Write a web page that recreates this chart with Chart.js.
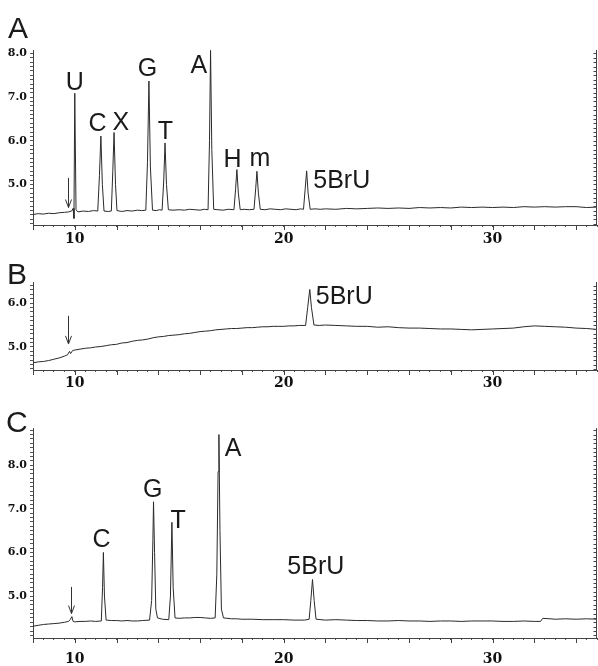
<!DOCTYPE html>
<html>
<head>
<meta charset="utf-8">
<script src="https://cdn.jsdelivr.net/npm/chart.js@4.4.1/dist/chart.umd.min.js"></script>
<style>
  body { margin: 0; background: #fff; }
  #page { position: relative; width: 598px; height: 666px; overflow: hidden; }
  canvas { position: absolute; left: 0; }
</style>
</head>
<body>
<div id="page">
  <canvas id="chartA" style="top:0px"></canvas>
  <canvas id="chartB" style="top:250px"></canvas>
  <canvas id="chartC" style="top:390px"></canvas>
</div>
<script>
// traces: [retention time, signal]
const traceA = [
  [8,4.31],[8.25,4.33],[8.5,4.32],[8.75,4.34],[9,4.33],[9.25,4.35],[9.5,4.36],[9.7,4.37],[9.85,4.39],[9.92,4.45],
  [9.96,4.22],[10,7.09],[10.06,4.42],[10.15,4.37],[10.4,4.39],[10.65,4.38],[10.9,4.4],[11.1,4.39],[11.18,5.2],[11.25,6.11],
  [11.32,5.0],[11.4,4.39],[11.6,4.38],[11.75,4.39],[11.82,5.3],[11.88,6.19],[11.95,5.0],[12.02,4.4],[12.25,4.38],[12.5,4.4],
  [12.75,4.39],[13,4.41],[13.2,4.4],[13.4,4.41],[13.48,5.5],[13.55,7.37],[13.62,5.4],[13.72,4.41],[13.9,4.4],[14.05,4.42],
  [14.18,4.41],[14.26,5.1],[14.32,5.95],[14.39,5.0],[14.48,4.42],[14.7,4.41],[15,4.42],[15.25,4.41],[15.5,4.43],[15.75,4.42],
  [16,4.41],[16.2,4.43],[16.38,4.42],[16.45,6.0],[16.5,8.07],[16.56,5.8],[16.65,4.43],[16.85,4.42],[17.1,4.41],[17.35,4.43],
  [17.62,4.42],[17.7,4.9],[17.76,5.34],[17.83,4.8],[17.92,4.42],[18.1,4.43],[18.35,4.42],[18.58,4.43],[18.66,4.9],[18.72,5.3],
  [18.79,4.8],[18.88,4.43],[19.1,4.42],[19.35,4.44],[19.6,4.43],[19.85,4.42],[20.1,4.44],[20.35,4.43],[20.6,4.42],[20.8,4.44],
  [20.95,4.43],[21.03,4.9],[21.1,5.31],[21.17,4.8],[21.27,4.43],[21.5,4.44],[21.75,4.43],[22,4.44],[22.5,4.43],[23,4.45],
  [23.5,4.44],[24,4.45],[24.5,4.46],[25,4.45],[25.5,4.46],[26,4.45],[26.5,4.47],[27,4.46],[27.5,4.47],[28,4.46],
  [28.5,4.48],[29,4.47],[29.5,4.48],[30,4.47],[30.5,4.48],[31,4.47],[31.5,4.49],[32,4.48],[32.5,4.49],[33,4.48],
  [33.5,4.49],[34,4.49],[34.5,4.47],[35,4.48]
];
const traceB = [
  [8,4.64],[8.25,4.66],[8.5,4.67],[8.75,4.69],[9,4.72],[9.25,4.75],[9.5,4.79],[9.65,4.82],[9.75,4.9],[9.8,4.85],
  [9.9,4.92],[10,4.93],[10.25,4.95],[10.5,4.97],[10.75,4.98],[11,5.0],[11.25,5.01],[11.5,5.03],[11.75,5.05],[12,5.06],
  [12.25,5.09],[12.5,5.1],[12.75,5.13],[13,5.15],[13.25,5.16],[13.5,5.18],[13.75,5.21],[14,5.23],[14.25,5.24],[14.5,5.26],
  [14.75,5.27],[15,5.28],[15.25,5.3],[15.5,5.31],[15.75,5.33],[16,5.35],[16.25,5.36],[16.5,5.37],[16.75,5.39],[17,5.4],
  [17.25,5.41],[17.5,5.42],[17.75,5.42],[18,5.43],[18.25,5.44],[18.5,5.44],[18.75,5.45],[19,5.46],[19.25,5.46],[19.5,5.47],
  [19.75,5.47],[20,5.47],[20.25,5.48],[20.5,5.48],[20.75,5.49],[21.05,5.49],[21.15,5.9],[21.25,6.31],[21.33,5.9],[21.45,5.5],
  [21.7,5.49],[22,5.5],[22.5,5.49],[23,5.48],[23.5,5.47],[24,5.47],[24.5,5.45],[25,5.46],[25.5,5.44],[26,5.43],
  [26.5,5.43],[27,5.42],[27.5,5.41],[28,5.41],[28.5,5.4],[29,5.39],[29.5,5.4],[30,5.41],[30.5,5.42],[31,5.43],
  [31.5,5.46],[32,5.48],[32.5,5.47],[33,5.46],[33.5,5.45],[34,5.43],[34.5,5.42],[35,5.4]
];
const traceC = [
  [8,4.31],[8.25,4.33],[8.5,4.35],[8.75,4.36],[9,4.37],[9.25,4.38],[9.5,4.4],[9.7,4.42],[9.78,4.46],[9.86,4.53],
  [9.92,4.42],[10,4.41],[10.25,4.42],[10.5,4.42],[10.75,4.43],[11,4.42],[11.27,4.43],[11.33,5.2],[11.37,6.0],[11.42,5.0],
  [11.5,4.45],[11.75,4.44],[12,4.44],[12.25,4.43],[12.5,4.44],[12.75,4.43],[13,4.43],[13.25,4.44],[13.58,4.45],[13.68,4.9],
  [13.74,6.3],[13.77,7.16],[13.82,6.0],[13.88,4.7],[13.96,4.5],[14.2,4.47],[14.5,4.46],[14.58,5.0],[14.65,6.69],[14.71,5.2],
  [14.8,4.5],[15,4.49],[15.25,4.5],[15.5,4.5],[15.75,4.51],[16,4.51],[16.25,4.5],[16.5,4.49],[16.72,4.5],[16.8,5.5],
  [16.86,7.85],[16.9,8.7],[16.95,6.5],[17.02,4.7],[17.12,4.5],[17.5,4.48],[17.75,4.48],[18,4.47],[18.5,4.47],[19,4.46],
  [19.5,4.46],[20,4.46],[20.5,4.45],[21,4.45],[21.22,4.47],[21.3,4.9],[21.38,5.38],[21.46,4.9],[21.55,4.47],[22,4.45],
  [22.5,4.46],[23,4.45],[23.5,4.44],[24,4.44],[24.5,4.43],[25,4.43],[25.5,4.44],[26,4.43],[26.5,4.43],[27,4.42],
  [27.5,4.43],[28,4.43],[28.5,4.42],[29,4.43],[29.5,4.43],[30,4.43],[30.5,4.42],[31,4.42],[31.5,4.43],[32,4.42],
  [32.3,4.42],[32.4,4.49],[32.75,4.48],[33,4.47],[33.5,4.48],[34,4.47],[34.5,4.48],[35,4.47]
];

// peak labels: name, time, signal level of the text baseline
const peaksA = ['U', 'C', 'X', 'G', 'T', 'A', 'H', 'm', '5BrU'];
const peakTimesA = [10.0, 11.09, 12.21, 13.48, 14.34, 15.94, 17.55, 18.86, 22.78];
const peakLevelsA = [7.16, 6.22, 6.24, 7.48, 6.03, 7.55, 5.41, 5.42, 4.91];
const peaksB = ['5BrU'];
const peakTimesB = [22.9];
const peakLevelsB = [5.99];
const peaksC = ['C', 'G', 'T', 'A', '5BrU'];
const peakTimesC = [11.28, 13.73, 14.95, 17.58, 21.54];
const peakLevelsC = [6.12, 7.27, 6.55, 8.21, 5.5];

// injection arrows: time, from, to
const arrowA = [9.67, 5.15, 4.47];
const arrowB = [9.67, 5.71, 5.07];
const arrowC = [9.82, 5.21, 4.6];

const timeRange = [8, 35];
const timeLabels = [10, 20, 30];

const INK = '#2a2a2a';
const tickFont = (size) => ({ family: '"DejaVu Serif", serif', size: size, weight: 'bold' });

function panelPlugin(spec) {
  return {
    id: 'panel' + spec.letter,
    afterDraw(chart) {
      const { ctx, chartArea, scales } = chart;
      const x = scales.x, y = scales.y;
      ctx.save();
      ctx.strokeStyle = '#444';
      ctx.lineWidth = 1;
      ctx.beginPath();
      // longer ticks every 2 min
      for (let t = 8; t <= 34; t += 2) {
        const px = Math.round(x.getPixelForValue(t)) + 0.5;
        ctx.moveTo(px, chartArea.bottom);
        ctx.lineTo(px, chartArea.bottom + 5);
      }
      // right-hand frame line with small inward ticks
      const rx = Math.round(chartArea.right) - 0.5;
      ctx.moveTo(rx, chartArea.top);
      ctx.lineTo(rx, chartArea.bottom);
      y.ticks.forEach(tk => {
        const py = Math.round(y.getPixelForValue(tk.value)) + 0.5;
        ctx.moveTo(rx, py);
        ctx.lineTo(rx - 3, py);
      });
      ctx.stroke();

      // arrow
      const ax = Math.round(x.getPixelForValue(spec.arrow[0])) + 0.5;
      const a0 = y.getPixelForValue(spec.arrow[1]);
      const a1 = y.getPixelForValue(spec.arrow[2]);
      ctx.strokeStyle = '#333';
      ctx.beginPath();
      ctx.moveTo(ax, a0);
      ctx.lineTo(ax, a1);
      ctx.moveTo(ax - 3, a1 - 8);
      ctx.lineTo(ax, a1);
      ctx.lineTo(ax + 3, a1 - 8);
      ctx.stroke();

      // peak names
      ctx.fillStyle = '#1a1a1a';
      ctx.font = '25px "Liberation Sans", Arial, sans-serif';
      ctx.textAlign = 'center';
      ctx.textBaseline = 'alphabetic';
      spec.names.forEach((n, i) => {
        ctx.fillText(n, x.getPixelForValue(spec.times[i]), y.getPixelForValue(spec.levels[i]));
      });

      // panel letter
      ctx.textAlign = 'left';
      ctx.font = '30px "Liberation Sans", Arial, sans-serif';
      ctx.fillText(spec.letter, spec.letterAt[0], spec.letterAt[1]);
      ctx.restore();
    }
  };
}

function makePanel(id, spec) {
  const canvas = document.getElementById(id);
  canvas.width = 598;
  canvas.height = spec.height;
  canvas.style.width = '598px';
  canvas.style.height = spec.height + 'px';
  return new Chart(canvas, {
    type: 'line',
    data: {
      datasets: [{
        data: spec.trace.map(p => ({ x: p[0], y: p[1] })),
        borderColor: INK,
        borderWidth: 1,
        pointRadius: 0,
        tension: 0
      }]
    },
    options: {
      responsive: false,
      animation: false,
      devicePixelRatio: 1,
      layout: { padding: { top: spec.top, right: 1, left: 0, bottom: 0 } },
      plugins: { legend: { display: false }, tooltip: { enabled: false } },
      scales: {
        x: {
          type: 'linear',
          min: timeRange[0],
          max: timeRange[1],
          afterFit: s => {
            s.height = spec.axisHeight;
            s.paddingLeft = 0;
            s.paddingRight = 0;
          },
          border: { display: true, color: '#444', width: 1 },
          grid: { drawOnChartArea: false, tickLength: 2, tickColor: '#555' },
          ticks: {
            stepSize: 0.5,
            autoSkip: false,
            maxRotation: 0,
            maxTicksLimit: 500,
            includeBounds: false,
            padding: spec.labelPad,
            color: '#111',
            font: tickFont(14),
            callback: v => timeLabels.includes(v) ? String(v) : ''
          }
        },
        y: {
          type: 'linear',
          min: spec.yRange[0],
          max: spec.yRange[1],
          afterFit: s => { s.width = 33; },
          border: { display: true, color: '#444', width: 1 },
          grid: { drawOnChartArea: false, tickLength: 3, tickColor: '#555' },
          ticks: {
            stepSize: 0.1,
            autoSkip: false,
            maxTicksLimit: 500,
            includeBounds: false,
            padding: 3,
            color: '#111',
            font: tickFont(11),
            callback: v => Math.abs(v - Math.round(v)) < 1e-6 ? v.toFixed(1) : ''
          }
        }
      }
    },
    plugins: [panelPlugin(spec)]
  });
}

makePanel('chartA', {
  letter: 'A', letterAt: [8, 38], height: 250, top: 50, axisHeight: 25, labelPad: 4,
  yRange: [4.07, 8.08], trace: traceA,
  names: peaksA, times: peakTimesA, levels: peakLevelsA, arrow: arrowA
});
makePanel('chartB', {
  letter: 'B', letterAt: [7, 34], height: 140, top: 32, axisHeight: 20, labelPad: 3,
  yRange: [4.475, 6.48], trace: traceB,
  names: peaksB, times: peakTimesB, levels: peakLevelsB, arrow: arrowB
});
makePanel('chartC', {
  letter: 'C', letterAt: [6, 42], height: 276, top: 38, axisHeight: 28, labelPad: 11,
  yRange: [4.04, 8.85], trace: traceC,
  names: peaksC, times: peakTimesC, levels: peakLevelsC, arrow: arrowC
});
</script>
</body>
</html>
